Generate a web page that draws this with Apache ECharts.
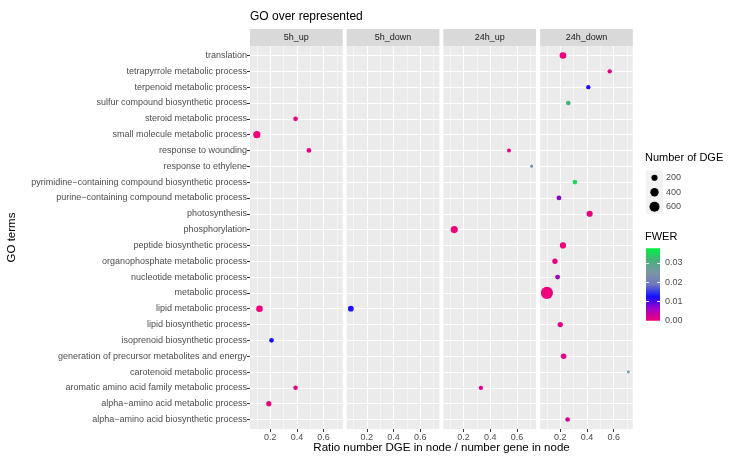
<!DOCTYPE html>
<html><head><meta charset="utf-8">
<script src="https://cdn.jsdelivr.net/npm/echarts@6/dist/echarts.min.js"></script>
<style>html,body{margin:0;padding:0;background:#fff}#c{width:739px;height:461px}</style>
</head><body><div id="c"></div>
<script>
// ---------------- DATA ----------------
const categories = [
  'translation',
  'tetrapyrrole metabolic process',
  'terpenoid metabolic process',
  'sulfur compound biosynthetic process',
  'steroid metabolic process',
  'small molecule metabolic process',
  'response to wounding',
  'response to ethylene',
  'pyrimidine−containing compound biosynthetic process',
  'purine−containing compound metabolic process',
  'photosynthesis',
  'phosphorylation',
  'peptide biosynthetic process',
  'organophosphate metabolic process',
  'nucleotide metabolic process',
  'metabolic process',
  'lipid metabolic process',
  'lipid biosynthetic process',
  'isoprenoid biosynthetic process',
  'generation of precursor metabolites and energy',
  'carotenoid metabolic process',
  'aromatic amino acid family metabolic process',
  'alpha−amino acid metabolic process',
  'alpha−amino acid biosynthetic process'
];
const panelNames = ['5h_up', '5h_down', '24h_up', '24h_down'];
// [term, ratio, number of DGE, FWER]
const up5h = [
  ['steroid metabolic process', 0.39, 100, 0.0004],
  ['small molecule metabolic process', 0.10, 280, 0.0],
  ['response to wounding', 0.49, 100, 0.0005],
  ['lipid metabolic process', 0.12, 240, 0.0],
  ['isoprenoid biosynthetic process', 0.21, 100, 0.012],
  ['aromatic amino acid family metabolic process', 0.39, 90, 0.0008],
  ['alpha−amino acid metabolic process', 0.19, 130, 0.0006]
];
const down5h = [
  ['lipid metabolic process', 0.08, 170, 0.012]
];
const up24h = [
  ['response to wounding', 0.54, 60, 0.001],
  ['response to ethylene', 0.71, 15, 0.021],
  ['phosphorylation', 0.13, 280, 0.0],
  ['aromatic amino acid family metabolic process', 0.33, 80, 0.001]
];
const down24h = [
  ['translation', 0.22, 240, 0.0],
  ['tetrapyrrole metabolic process', 0.57, 80, 0.001],
  ['terpenoid metabolic process', 0.41, 80, 0.012],
  ['sulfur compound biosynthetic process', 0.26, 100, 0.031],
  ['pyrimidine−containing compound biosynthetic process', 0.31, 100, 0.036],
  ['purine−containing compound metabolic process', 0.19, 110, 0.007],
  ['photosynthesis', 0.42, 200, 0.0005],
  ['peptide biosynthetic process', 0.22, 200, 0.0],
  ['organophosphate metabolic process', 0.16, 140, 0.0005],
  ['nucleotide metabolic process', 0.18, 110, 0.006],
  ['metabolic process', 0.10, 875, 0.0],
  ['lipid biosynthetic process', 0.20, 140, 0.0005],
  ['generation of precursor metabolites and energy', 0.225, 150, 0.0008],
  ['carotenoid metabolic process', 0.71, 15, 0.025],
  ['alpha−amino acid biosynthetic process', 0.255, 100, 0.002]
];
const xMajor = [0.2, 0.4, 0.6];
const xMinor = [0.1, 0.3, 0.5, 0.7];
const sizeBreaks = [200, 400, 600];
const fwerTicks = [0.00, 0.01, 0.02, 0.03];
const fwerMax = 0.0375;
const fwerColors = ['#F0007A', '#A000C8', '#1010FF', '#7078C0', '#7A96A4', '#48B07C', '#00F040'];

// ---------------- CHART ----------------
const chart = echarts.init(document.getElementById('c'));
const FONT = 'Liberation Sans, Arial, sans-serif';
const xMin = 0.049, xMax = 0.743;
const P_LEFT = 250, P_STEP = 96.7, P_W = 92.7, P_TOP = 46, P_H = 383, STRIP_H = 17;
const rowIdx = categories.map((c, i) => i);
const panelData = [up5h, down5h, up24h, down24h];
const sizeFn = v => Math.sqrt(6 + 0.16 * v);

const grids = [], xAxes = [], yAxes = [], series = [], strips = [];
panelNames.forEach((nm, i) => {
  const left = P_LEFT + i * P_STEP;
  grids.push({left: left, top: P_TOP, width: P_W, height: P_H,
    show: true, backgroundColor: '#EBEBEB', borderWidth: 0, containLabel: false});
  xAxes.push({gridIndex: i, type: 'value', min: xMin, max: xMax, position: 'bottom',
    axisLine: {show: false, onZero: false},
    axisTick: {show: true, length: 3, lineStyle: {color: '#333', width: 1}, customValues: xMajor},
    axisLabel: {customValues: xMajor, formatter: v => v.toFixed(1), fontSize: 9, color: '#4D4D4D', margin: 4, fontFamily: FONT},
    splitLine: {show: true, lineStyle: {color: '#fff', width: 1.1}}});
  xAxes.push({gridIndex: i, type: 'value', min: xMin, max: xMax, position: 'top',
    axisLine: {show: false, onZero: false},
    axisTick: {show: false, customValues: xMinor},
    axisLabel: {show: false, customValues: xMinor},
    splitLine: {show: true, lineStyle: {color: '#fff', width: 0.5}}});
  yAxes.push({gridIndex: i, type: 'value', inverse: true, min: -0.6, max: categories.length - 1 + 0.6,
    axisLine: {show: false, onZero: false},
    axisTick: {show: i === 0, length: 3, lineStyle: {color: '#333', width: 1}, customValues: rowIdx},
    axisLabel: {show: i === 0, customValues: rowIdx, formatter: v => categories[Math.round(v)] || '',
      fontSize: 9, color: '#4D4D4D', margin: 3, fontFamily: FONT},
    splitLine: {show: true, lineStyle: {color: '#fff', width: 1.1}}});
  series.push({type: 'scatter', xAxisIndex: 2 * i, yAxisIndex: i,
    data: panelData[i].map(r => [r[1], categories.indexOf(r[0]), r[3], r[2]]),
    symbolSize: v => sizeFn(v[3]), itemStyle: {opacity: 1}});
  strips.push({type: 'rect', shape: {x: left, y: P_TOP - STRIP_H, width: P_W, height: STRIP_H},
    style: {fill: '#D9D9D9'}, silent: true});
  strips.push({type: 'text', x: left + P_W / 2, y: P_TOP - STRIP_H / 2,
    style: {text: nm, fontSize: 9, fill: '#1A1A1A', fontFamily: FONT, align: 'center', verticalAlign: 'middle'}});
});

// size legend
grids.push({left: 646, top: 170.5, width: 17, height: 43.5, show: true, backgroundColor: '#F2F2F2', borderWidth: 0});
xAxes.push({gridIndex: 4, type: 'value', min: 0, max: 1, show: false});
yAxes.push({gridIndex: 4, type: 'category', data: sizeBreaks.map(String), inverse: true, position: 'right',
  axisLine: {show: false}, axisTick: {show: false}, splitLine: {show: false},
  axisLabel: {fontSize: 9, color: '#4D4D4D', margin: 3, fontFamily: FONT}});
series.push({type: 'scatter', xAxisIndex: 8, yAxisIndex: 4,
  data: sizeBreaks.map(s => [0.5, String(s), s]), symbolSize: v => sizeFn(v[2]),
  itemStyle: {color: '#000', opacity: 1}});

// colour bar
grids.push({left: 646, top: 248.3, width: 14, height: 72.4, show: false});
xAxes.push({gridIndex: 5, type: 'category', data: ['FWER'], show: false});
yAxes.push({gridIndex: 5, type: 'value', min: 0, max: fwerMax, position: 'right',
  axisLine: {show: false, onZero: false}, axisTick: {show: false, customValues: fwerTicks}, splitLine: {show: false},
  axisLabel: {customValues: fwerTicks, formatter: v => v.toFixed(2), fontSize: 9, color: '#4D4D4D', margin: 5, fontFamily: FONT}});
series.push({type: 'bar', xAxisIndex: 9, yAxisIndex: 5, barWidth: '100%', data: [fwerMax],
  itemStyle: {color: new echarts.graphic.LinearGradient(0, 1, 0, 0,
    fwerColors.map((c, k) => ({offset: k / (fwerColors.length - 1), color: c})))},
  markLine: {silent: true, symbol: 'none', label: {show: false},
    lineStyle: {color: '#fff', width: 1, type: [2.8, 8.4]},
    data: fwerTicks.slice(1).map(v => ({yAxis: v}))}});

chart.setOption({
  animation: false,
  textStyle: {fontFamily: FONT},
  grid: grids, xAxis: xAxes, yAxis: yAxes, series: series,
  visualMap: {type: 'continuous', show: false, min: 0, max: fwerMax, dimension: 2,
    seriesIndex: [0, 1, 2, 3], inRange: {color: fwerColors}},
  graphic: strips.concat([
    {type: 'text', x: 250, y: 17, style: {text: 'GO over represented', fontSize: 12, fill: '#000',
      fontFamily: FONT, verticalAlign: 'middle'}},
    {type: 'text', x: 441.5, y: 448, style: {text: 'Ratio number DGE in node / number gene in node',
      fontSize: 11.5, fill: '#000', fontFamily: FONT, align: 'center', verticalAlign: 'middle'}},
    {type: 'text', x: 12, y: 237.5, rotation: Math.PI / 2, style: {text: 'GO terms', fontSize: 11.5,
      fill: '#000', fontFamily: FONT, align: 'center', verticalAlign: 'middle'}},
    {type: 'text', x: 645, y: 158, style: {text: 'Number of DGE', fontSize: 11, fill: '#000',
      fontFamily: FONT, verticalAlign: 'middle'}},
    {type: 'text', x: 645, y: 237, style: {text: 'FWER', fontSize: 11, fill: '#000',
      fontFamily: FONT, verticalAlign: 'middle'}}
  ])
});
</script></body></html>
